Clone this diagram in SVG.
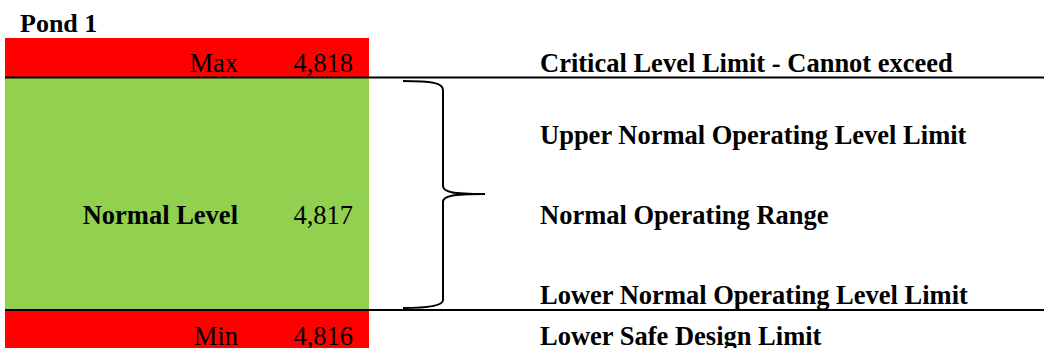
<svg xmlns="http://www.w3.org/2000/svg" width="1044" height="348" viewBox="0 0 1044 348">
<style>
.t{font-family:"Liberation Serif","Times New Roman",serif;font-size:26.5px;fill:#000}
.b{font-weight:bold}
.r{text-anchor:end}
.ln{stroke:#000;stroke-width:2.2;fill:none}
.br{stroke:#000;stroke-width:2;fill:none}
</style>
<rect width="1044" height="348" fill="#fff"/>
<g id="title"><text class="t b" x="20" y="32" style="font-size:26px">Pond 1</text></g>
<g id="max">
<rect x="5" y="38" width="364" height="40" fill="#FF0000"/>
<text class="t r" x="238" y="72">Max</text>
<text class="t r" x="353" y="72">4,818</text>
</g>
<g id="normal">
<rect x="5" y="78" width="364" height="232" fill="#92D050"/>
<text class="t b r" x="238" y="224">Normal Level</text>
<text class="t r" x="353" y="224">4,817</text>
</g>
<g id="min">
<rect x="5" y="310" width="364" height="38" fill="#FF0000"/>
<text class="t r" x="238" y="345">Min</text>
<text class="t r" x="353" y="345">4,816</text>
</g>
<g id="connectors">
<line class="ln" x1="5" y1="77.5" x2="1044" y2="77.5"/>
<line class="ln" x1="5" y1="310" x2="1044" y2="310"/>
<path class="br" d="M403,81 C432,81 443,83 443,90 L443,186 C443,192 452,194 485,194"/>
<path class="br" d="M485,194 C452,194 443,196 443,202 L443,300 C443,305 432,308 403,308"/>
</g>
<g id="labels">
<text class="t b" x="540" y="72">Critical Level Limit - Cannot exceed</text>
<text class="t b" x="540" y="144">Upper Normal Operating Level Limit</text>
<text class="t b" x="540" y="224">Normal Operating Range</text>
<text class="t b" x="540" y="304">Lower Normal Operating Level Limit</text>
<text class="t b" x="540" y="345">Lower Safe Design Limit</text>
</g>
</svg>
